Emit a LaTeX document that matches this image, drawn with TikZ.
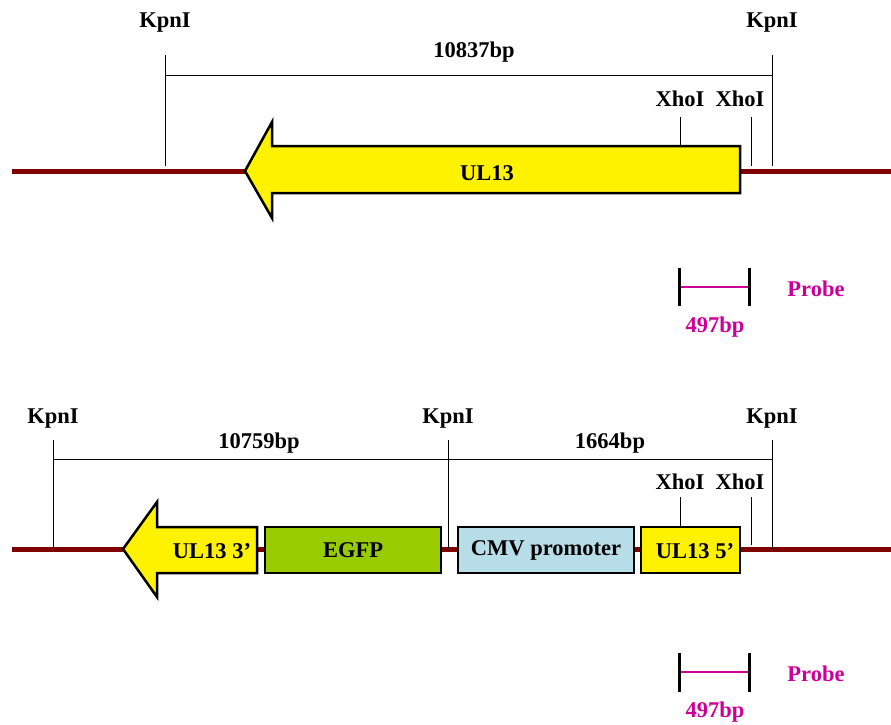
\documentclass[tikz,border=0pt]{standalone}
\usepackage{fontspec}
\setmainfont{Liberation Serif}
\usetikzlibrary{arrows.meta,positioning}
\definecolor{dnared}{HTML}{800000}
\definecolor{probepink}{HTML}{CC0099}
\definecolor{egfpgreen}{HTML}{99CC00}
\definecolor{cmvblue}{HTML}{B7DEE8}

\begin{document}
\begin{tikzpicture}[x=1pt,y=-1pt,
    lbl/.style={font=\bfseries\fontsize{22.5}{26}\selectfont,inner sep=0pt},
    sitecut/.style={line width=1pt},
    dna/.style={dnared,line width=5pt},
    genebox/.style={draw,line width=2.5pt,minimum height=46pt,inner sep=0pt,%
      font=\bfseries\fontsize{22.5}{26}\selectfont},
    probeline/.style={probepink,line width=2.5pt},
    probetick/.style={line width=3pt}]
  \useasboundingbox (0,0) rectangle (891,724);

  % wild type
  \draw[dna] (12,171) coordinate (wtL) -- (891,171) coordinate (wtR);
  \node[lbl] (wtKa) at (165,23) {KpnI};
  \node[lbl] (wtKb) at (772,23) {KpnI};
  \node[lbl] (wtXa) at (680,99) {XhoI};
  \node[lbl] (wtXb) at (740,99) {XhoI};
  \coordinate (wtKaT) at (165,55);
  \coordinate (wtKbT) at (772,55);
  \draw[sitecut] (wtKaT) -- (165,166);
  \draw[sitecut] (wtKbT) -- (772,166);
  \draw[sitecut] (wtKaT |- 0,75) -- (wtKbT |- 0,75);
  \node[lbl] (wtLen) at (474,52) {10837bp};
  \draw[sitecut] (680,117) -- (680,146);
  \draw[sitecut] (751,117) -- (751,166);
  \draw[line width=2.5pt,fill=yellow,line join=miter]
    (740,146) -- (272,146) -- (272,122) -- (245,171) -- (272,218) -- (272,193)
    -- (740,193) -- cycle;
  \node[lbl] (wtGene) at (487,173) {UL13};
  % probe
  \draw[probeline] (679,287) coordinate (wtPa) -- (749,287) coordinate (wtPb);
  \draw[probetick] (679,268) -- (679,306);
  \draw[probetick] (749,268) -- (749,306);
  \node[lbl,probepink] (wtProbe) at (816,289) {Probe};
  \node[lbl,probepink] (wtPlen) at (715,327) {497bp};

  % recombinant
  \draw[dna] (12,549) coordinate (rcL) -- (891,549) coordinate (rcR);
  \node[lbl] (rcKa) at (53,419) {KpnI};
  \node[lbl] (rcKb) at (448,419) {KpnI};
  \node[lbl] (rcKc) at (772,419) {KpnI};
  \node[lbl] (rcXa) at (680,482) {XhoI};
  \node[lbl] (rcXb) at (740,482) {XhoI};
  \coordinate (rcKaT) at (53,440);
  \coordinate (rcKbT) at (448,440);
  \coordinate (rcKcT) at (772,440);
  \draw[sitecut] (rcKaT) -- (53,549);
  \draw[sitecut] (rcKbT) -- (448,549);
  \draw[sitecut] (rcKcT) -- (772,549);
  \draw[sitecut] (rcKaT |- 0,459) -- (rcKcT |- 0,459);
  \node[lbl] (rcLenA) at (259,443) {10759bp};
  \node[lbl] (rcLenB) at (610,443) {1664bp};
  \draw[sitecut] (680,497) -- (680,527);
  \draw[sitecut] (751,497) -- (751,545);
  \draw[line width=2.5pt,fill=yellow,line join=miter]
    (257,527) -- (157,527) -- (157,502) -- (123,549) -- (157,597) -- (157,573)
    -- (257,573) -- cycle;
  \node[lbl] (rcGeneB) at (212,551) {UL13 3’};
  \node[genebox,fill=egfpgreen,minimum width=176pt] (egfp) at (353,550) {EGFP};
  \node[genebox,fill=cmvblue,minimum width=176pt] (cmv) at (546,550) {CMV promoter};
  \node[genebox,fill=yellow,minimum width=99pt] (rcGeneA) at (690.5,550) {};
  \node[lbl] (rcGeneAtxt) at (695,551) {UL13 5’};
  % probe
  \draw[probeline] (679,672) coordinate (rcPa) -- (749,672) coordinate (rcPb);
  \draw[probetick] (679,653) -- (679,692);
  \draw[probetick] (749,653) -- (749,692);
  \node[lbl,probepink] (rcProbe) at (816,674) {Probe};
  \node[lbl,probepink] (rcPlen) at (715,712) {497bp};
\end{tikzpicture}
\end{document}
